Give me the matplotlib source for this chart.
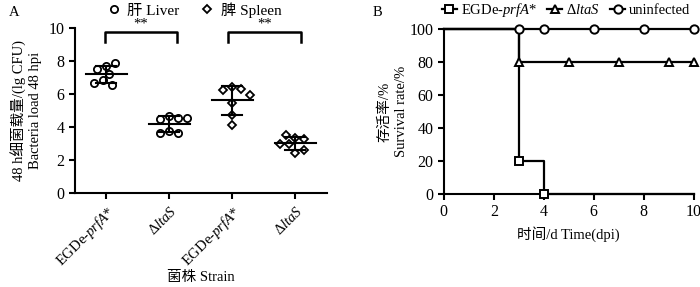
import numpy as np
import matplotlib
matplotlib.use("Agg")
import matplotlib.pyplot as plt
from matplotlib.lines import Line2D

plt.rcParams['font.family'] = ['Liberation Serif', 'Noto Sans CJK SC']
plt.rcParams['mathtext.fontset'] = 'custom'
plt.rcParams['mathtext.rm'] = 'Liberation Serif'
plt.rcParams['mathtext.it'] = 'Liberation Serif:italic'
plt.rcParams['font.size'] = 10

# --- panel A data: bacteria load (lg CFU), 7 mice per group
strains = [r'EGDe-$\mathit{prfA}$*', r'$\Delta\mathit{ltaS}$', r'EGDe-$\mathit{prfA}$*', r'$\Delta\mathit{ltaS}$']
liver_egde = [7.68, 7.88, 7.54, 7.23, 6.87, 6.57, 6.67]
liver_ltas = [4.65, 4.55, 4.50, 4.55, 3.75, 3.65, 3.62]
spleen_egde = [6.42, 6.28, 6.26, 5.96, 5.45, 4.75, 4.14]
spleen_ltas = [3.35, 3.25, 3.50, 2.95, 2.95, 2.45, 2.60]
groups = [liver_egde, liver_ltas, spleen_egde, spleen_ltas]
organ = ['liver', 'liver', 'spleen', 'spleen']

# --- panel B data: survival (%)
days = [0, 3, 4, 10]
surv_egde = [100, 20, 0, 0]
surv_ltas = [100, 80, 80, 80]
surv_uninf = [100, 100, 100, 100]
mark_egde = ([3, 4], [20, 0])
mark_ltas = ([3, 5, 7, 9, 10], [80, 80, 80, 80, 80])
mark_uninf = ([3, 4, 6, 8, 10], [100, 100, 100, 100, 100])

fig = plt.figure(figsize=(7.0, 2.87), dpi=100)


def style_axes(ax):
    for s in ['top', 'right']:
        ax.spines[s].set_visible(False)
    for s in ['left', 'bottom']:
        ax.spines[s].set_linewidth(1.5)
    ax.tick_params(width=1.5, length=4, direction='out', labelsize=11.5)


def swarm(vals, center, px_x, px_y, d=8.0):
    # simple beeswarm in pixel space
    placed = []
    xs = []
    for v in vals:
        yp = v * px_y
        for k in [0, 1, -1, 2, -2, 3, -3, 4, -4, 5, -5, 6, -6]:
            xp = k * 3.0
            if all((xp - a) ** 2 + (yp - b) ** 2 >= d * d for a, b in placed):
                break
        placed.append((xp, yp))
        xs.append(center + xp / px_x)
    return xs


# ---------------- panel A
axA = fig.add_axes([0.107, 0.3275, 0.36, 0.575])
style_axes(axA)
axA.set_xlim(-0.5, 3.5)
axA.set_ylim(0, 10)
axA.set_yticks(range(0, 11, 2))
px_x = 0.36 * 700 / 4.0
px_y = 0.575 * 287 / 10.0
for i, vals in enumerate(groups):
    xs = swarm(vals, i, px_x, px_y)
    mk = 'o' if organ[i] == 'liver' else 'D'
    ms = 5.2 if mk == 'o' else 3.8
    axA.plot(xs, vals, ls='none', marker=mk, ms=ms, mfc='white', mec='black', mew=1.3, zorder=3)
    m = np.mean(vals)
    sd = np.std(vals, ddof=1)
    axA.plot([i - 0.33, i + 0.33], [m, m], color='black', lw=1.5, zorder=4)
    axA.plot([i, i], [m - sd, m + sd], color='black', lw=1.5, zorder=4)
    for y in (m - sd, m + sd):
        axA.plot([i - 0.16, i + 0.16], [y, y], color='black', lw=1.5, zorder=4)
axA.set_xticks(range(4))
axA.set_xticklabels(strains, rotation=45, ha='right', rotation_mode='anchor', fontsize=10.5)

# significance brackets
for x0, x1 in [(-0.02, 1.12), (1.93, 3.09)]:
    axA.plot([x0, x0, x1, x1], [9.15, 9.75, 9.75, 9.15], color='black', lw=1.8, clip_on=False)
    axA.text((x0 + x1) / 2, 9.85, '**', ha='center', va='bottom', fontsize=10.5)

axA.set_ylabel('48 h细菌载量/(lg CFU)\nBacteria load 48 hpi', fontsize=10.5, linespacing=1.3)
axA.yaxis.set_label_coords(-0.13, 0.5)
axA.set_xlabel('菌株 Strain', fontsize=10.5)
axA.xaxis.set_label_coords(0.5, -0.475)

legA = [Line2D([], [], ls='none', marker='o', ms=5.2, mfc='white', mec='black', mew=1.3, label='肝 Liver'),
        Line2D([], [], ls='none', marker='D', ms=3.8, mfc='white', mec='black', mew=1.3, label='脾 Spleen')]
fig.legend(handles=legA, loc='center', bbox_to_anchor=(0.278, 0.965), ncol=2, frameon=False,
           fontsize=11, handlelength=0.8, handletextpad=0.5, columnspacing=1.4, borderpad=0)

fig.text(0.012, 0.945, 'A', fontsize=10.5)

# ---------------- panel B
axB = fig.add_axes([0.634, 0.324, 0.357, 0.575])
style_axes(axB)
axB.set_xlim(0, 10)
axB.set_ylim(0, 100)
axB.set_xticks(range(0, 11, 2))
axB.set_yticks(range(0, 101, 20))

axB.step(days, surv_uninf, where='post', color='black', lw=1.6, clip_on=False, zorder=3)
axB.step(days, surv_ltas, where='post', color='black', lw=1.6, clip_on=False, zorder=3)
axB.step(days, surv_egde, where='post', color='black', lw=1.6, clip_on=False, zorder=3)
axB.plot(*mark_uninf, ls='none', marker='o', ms=6, mfc='white', mec='black', mew=1.4, clip_on=False, zorder=4)
axB.plot(*mark_ltas, ls='none', marker='^', ms=5.5, mfc='white', mec='black', mew=1.4, clip_on=False, zorder=4)
axB.plot(*mark_egde, ls='none', marker='s', ms=5.5, mfc='white', mec='black', mew=1.4, clip_on=False, zorder=4)

axB.set_ylabel('存活率/%\nSurvival rate/%', fontsize=10.5, linespacing=1.3)
axB.yaxis.set_label_coords(-0.145, 0.5)
axB.set_xlabel('时间/d Time(dpi)', fontsize=10.5)

legB = [Line2D([], [], color='black', lw=1.6, marker='s', ms=5.5, mfc='white', mec='black', mew=1.4, label=r'EGDe-$\mathit{prfA}$*'),
        Line2D([], [], color='black', lw=1.6, marker='^', ms=5.5, mfc='white', mec='black', mew=1.4, label=r'$\Delta\mathit{ltaS}$'),
        Line2D([], [], color='black', lw=1.6, marker='o', ms=6, mfc='white', mec='black', mew=1.4, label='uninfected')]
fig.legend(handles=legB, loc='center', bbox_to_anchor=(0.809, 0.965), ncol=3, frameon=False,
           fontsize=10.5, handlelength=1.0, handletextpad=0.3, columnspacing=0.7, borderpad=0)

fig.text(0.532, 0.945, 'B', fontsize=10.5)

fig.savefig('out.png', dpi=100)
